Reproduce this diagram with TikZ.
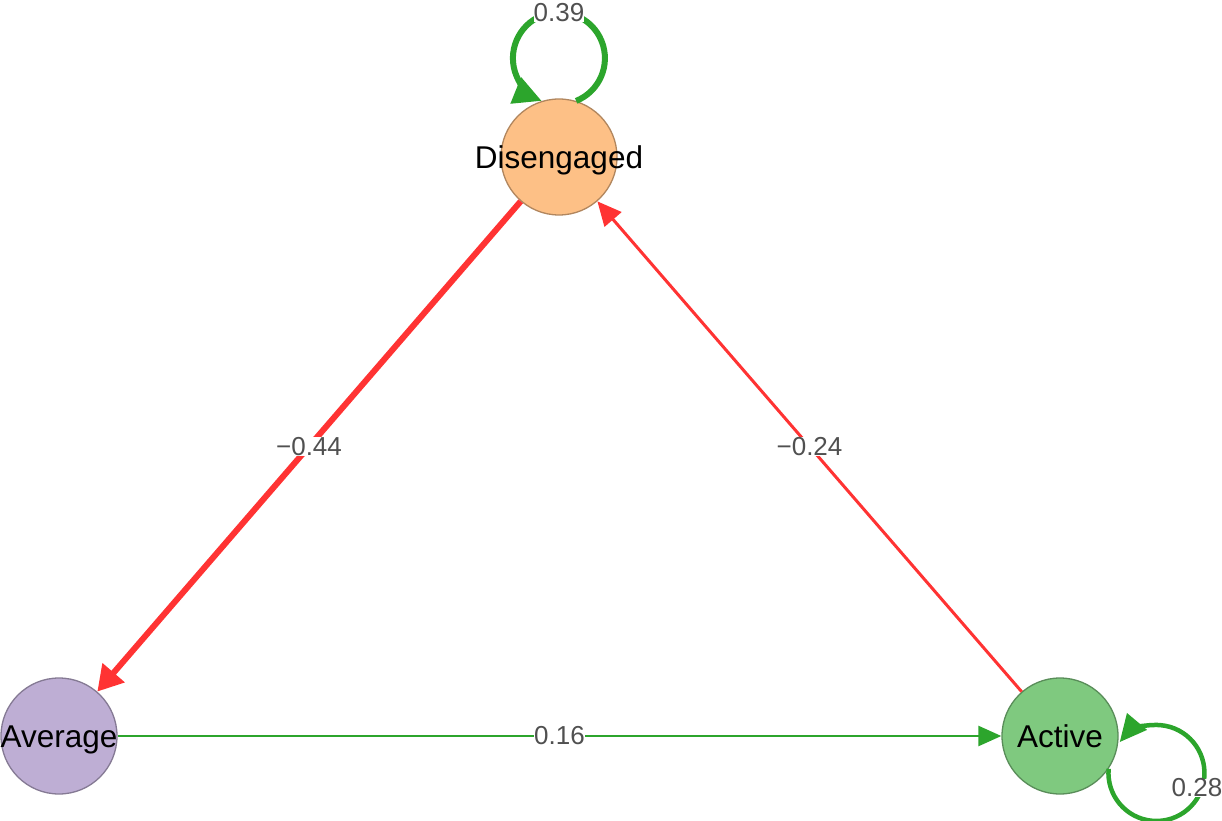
\documentclass[tikz,border=0pt]{standalone}
\usepackage{fontspec}
\setmainfont{Liberation Sans}
\usetikzlibrary{arrows.meta}
\definecolor{dfill}{RGB}{253,192,134}
\definecolor{ddraw}{RGB}{177,134,94}
\definecolor{afill}{RGB}{190,174,212}
\definecolor{adraw}{RGB}{133,122,148}
\definecolor{cfill}{RGB}{127,201,127}
\definecolor{cdraw}{RGB}{89,141,89}
\definecolor{negc}{RGB}{255,51,51}
\definecolor{posc}{RGB}{44,165,44}
\definecolor{labc}{RGB}{80,80,80}
\newcommand{\zw}[1]{\makebox[0pt]{#1}}
\tikzset{
  state/.style={circle, minimum size=116pt, inner sep=0pt, line width=1.3pt,
    font=\fontsize{31.5}{32}\selectfont, text=black, text depth=0pt, text height=22.5pt},
  elabel/.style={fill=white, inner sep=0pt, text=labc, font=\fontsize{26}{26}\selectfont},
  negedge/.style={draw=negc, color=negc},
  posedge/.style={draw=posc, color=posc},
}
\begin{document}
\begin{tikzpicture}[x=1pt,y=1pt]
\useasboundingbox (0,0) rectangle (1222,820);
\node[state, fill=dfill, draw=ddraw] (D) at (559,663) {\zw{Disengaged}};
\node[state, fill=afill, draw=adraw] (A) at (59,84) {\zw{Average}};
\node[state, fill=cfill, draw=cdraw] (C) at (1060,84) {\zw{Active}};
% edges
\draw[negedge, line width=6pt, -{Triangle[length=25pt,width=28pt]}] (D) -- (A)
  node[elabel, midway] (l1) {−0.44};
\draw[negedge, line width=3pt, -{Triangle[length=24pt,width=22pt]}] (C) -- (D)
  node[elabel, midway] (l2) {−0.24};
\draw[posedge, line width=2.5pt, -{Triangle[length=23pt,width=20pt]}] (A) -- (C)
  node[elabel, midway] (l3) {0.16};
% self loops
\draw[posedge, line width=6pt, -{Triangle[length=28pt,width=27pt]}] (D.73)
  arc[start angle=-68, end angle=248, radius=46];
\node[elabel] (l4) at ([yshift=144pt]D.center) {0.39};
\draw[posedge, line width=4.5pt, -{Triangle[length=27pt,width=25pt]}] (C.-34)
  arc[start angle=175, end angle=500, radius=48];
\node[elabel] (l5) at ([xshift=137pt,yshift=-52pt]C.center) {0.28};
\end{tikzpicture}
\end{document}
